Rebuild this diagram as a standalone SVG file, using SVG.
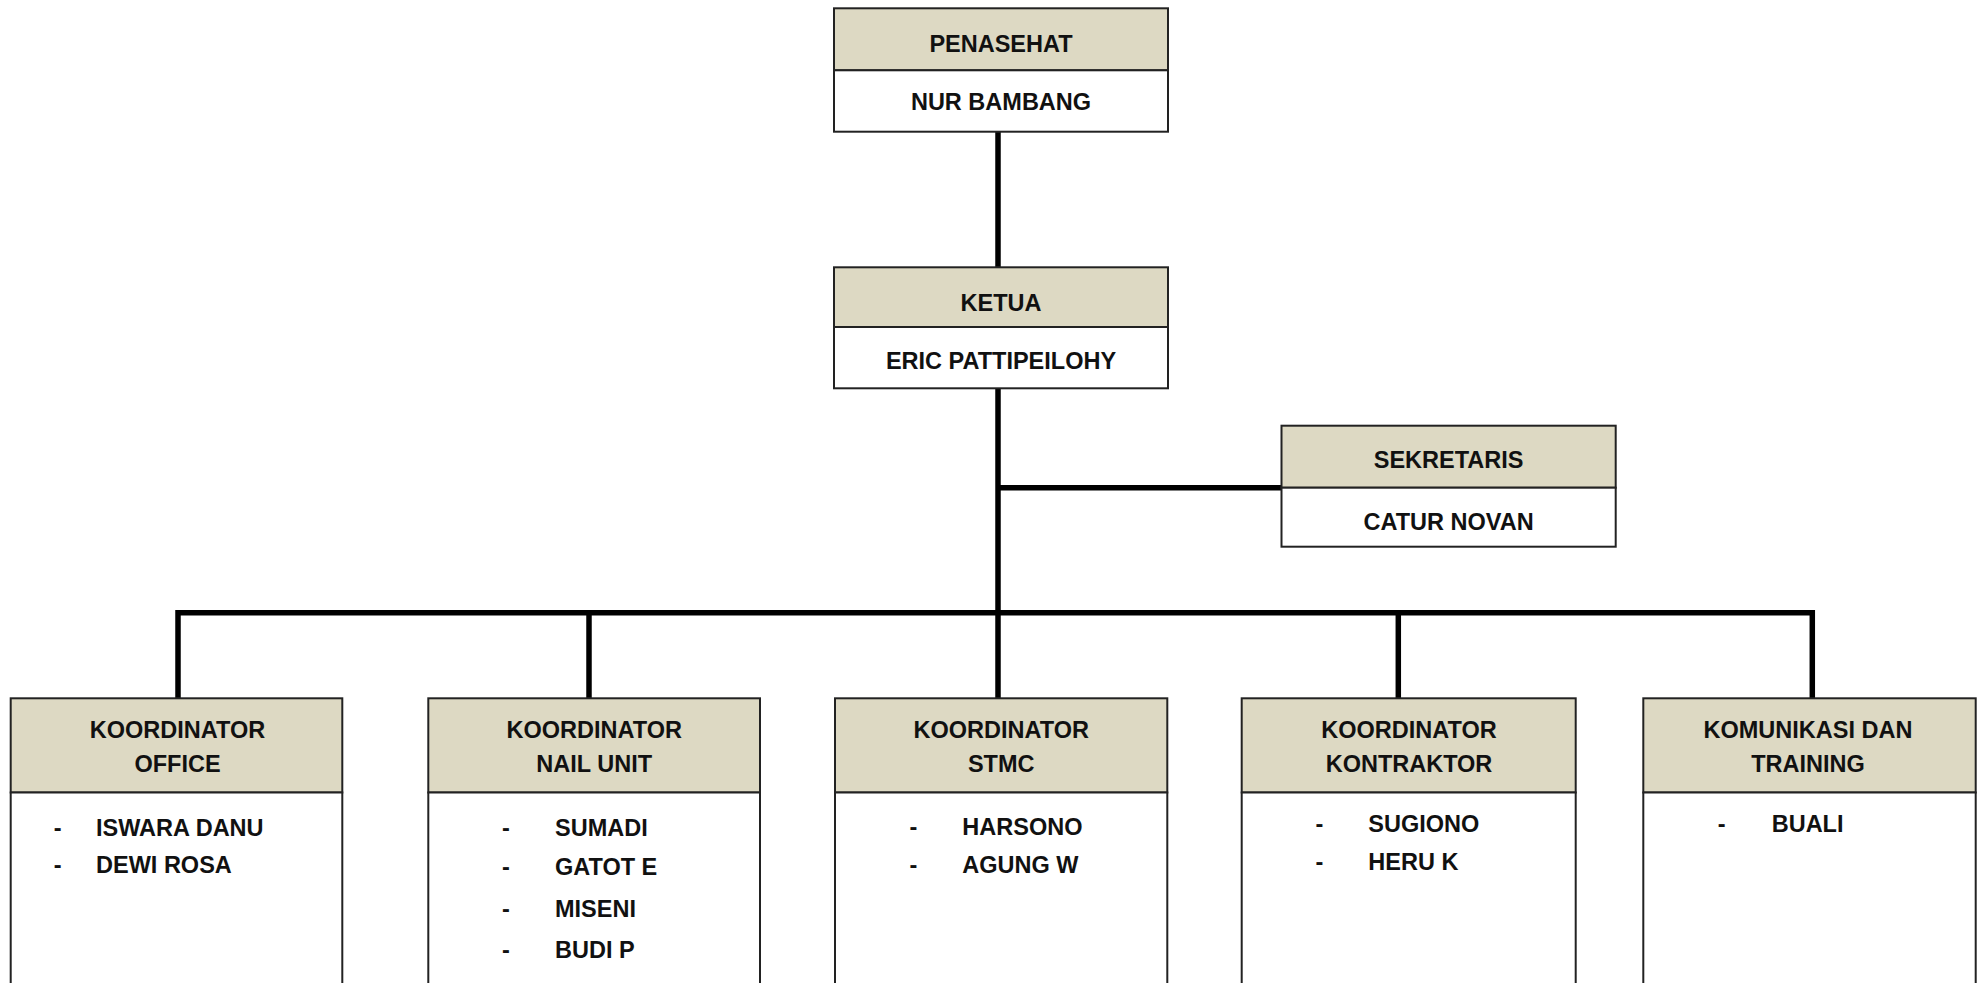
<svg xmlns="http://www.w3.org/2000/svg" width="1979" height="983" viewBox="0 0 1979 983">
<style>
.hd{fill:#DDD9C3;stroke:#222;stroke-width:2}
.bd{fill:#fff;stroke:#222;stroke-width:2}
.t{font-family:"Liberation Sans",Arial,sans-serif;font-weight:bold;font-size:23.5px;fill:#111}
.c{text-anchor:middle}
.ln{stroke:#000;stroke-width:5.5;fill:none}
</style>
<rect width="1979" height="983" fill="#fff"/>
<g id="connectors">
<line class="ln" x1="998" y1="131.7" x2="998" y2="267.3"/>
<line class="ln" x1="998" y1="388.3" x2="998" y2="698.3"/>
<line class="ln" x1="998" y1="487.7" x2="1281.5" y2="487.7"/>
<path class="ln" d="M178 698.3 V612.7 H1812.3 V698.3"/>
<line class="ln" x1="589" y1="612.7" x2="589" y2="698.3"/>
<line class="ln" x1="1398.3" y1="612.7" x2="1398.3" y2="698.3"/>
</g>
<g id="penasehat">
<rect class="hd" x="834" y="8.3" width="334" height="62"/>
<rect class="bd" x="834" y="70.3" width="334" height="61.4"/>
<text class="t c" x="1001" y="51.7">PENASEHAT</text>
<text class="t c" x="1001" y="110">NUR BAMBANG</text>
</g>
<g id="ketua">
<rect class="hd" x="834" y="267.3" width="334" height="59.7"/>
<rect class="bd" x="834" y="327" width="334" height="61.3"/>
<text class="t c" x="1001" y="310.7">KETUA</text>
<text class="t c" x="1001" y="369.3">ERIC PATTIPEILOHY</text>
</g>
<g id="sekretaris">
<rect class="hd" x="1281.5" y="425.7" width="334.2" height="62"/>
<rect class="bd" x="1281.5" y="487.7" width="334.2" height="59"/>
<text class="t c" x="1448.6" y="468.3">SEKRETARIS</text>
<text class="t c" x="1448.6" y="530">CATUR NOVAN</text>
</g>
<g id="koordinator-office">
<rect class="hd" x="10.7" y="698.3" width="331.6" height="94.2"/>
<rect class="bd" x="10.7" y="792.5" width="331.6" height="210"/>
<text class="t c" x="177.5" y="738.3">KOORDINATOR</text>
<text class="t c" x="177.5" y="771.7">OFFICE</text>
<text class="t c" x="57.7" y="835.7">-</text>
<text class="t" x="96" y="835.7">ISWARA DANU</text>
<text class="t c" x="57.7" y="872.7">-</text>
<text class="t" x="96" y="872.7">DEWI ROSA</text>
</g>
<g id="koordinator-nail-unit">
<rect class="hd" x="428.3" y="698.3" width="331.7" height="94.2"/>
<rect class="bd" x="428.3" y="792.5" width="331.7" height="210"/>
<text class="t c" x="594.2" y="738.3">KOORDINATOR</text>
<text class="t c" x="594.2" y="771.7">NAIL UNIT</text>
<text class="t c" x="506" y="835.7">-</text>
<text class="t" x="555" y="835.7">SUMADI</text>
<text class="t c" x="506" y="875">-</text>
<text class="t" x="555" y="875">GATOT E</text>
<text class="t c" x="506" y="917.3">-</text>
<text class="t" x="555" y="917.3">MISENI</text>
<text class="t c" x="506" y="958.3">-</text>
<text class="t" x="555" y="958.3">BUDI P</text>
</g>
<g id="koordinator-stmc">
<rect class="hd" x="835" y="698.3" width="332.3" height="94.2"/>
<rect class="bd" x="835" y="792.5" width="332.3" height="210"/>
<text class="t c" x="1001.2" y="738.3">KOORDINATOR</text>
<text class="t c" x="1001.2" y="771.7">STMC</text>
<text class="t c" x="913.3" y="835.3">-</text>
<text class="t" x="962.3" y="835.3">HARSONO</text>
<text class="t c" x="913.3" y="872.7">-</text>
<text class="t" x="962.3" y="872.7">AGUNG W</text>
</g>
<g id="koordinator-kontraktor">
<rect class="hd" x="1241.7" y="698.3" width="334" height="94.2"/>
<rect class="bd" x="1241.7" y="792.5" width="334" height="210"/>
<text class="t c" x="1409" y="738.3">KOORDINATOR</text>
<text class="t c" x="1409" y="771.7">KONTRAKTOR</text>
<text class="t c" x="1319.3" y="832.3">-</text>
<text class="t" x="1368.3" y="832.3">SUGIONO</text>
<text class="t c" x="1319.3" y="870">-</text>
<text class="t" x="1368.3" y="870">HERU K</text>
</g>
<g id="komunikasi-training">
<rect class="hd" x="1643.3" y="698.3" width="332.4" height="94.2"/>
<rect class="bd" x="1643.3" y="792.5" width="332.4" height="210"/>
<text class="t c" x="1808" y="738.3">KOMUNIKASI DAN</text>
<text class="t c" x="1808" y="771.7">TRAINING</text>
<text class="t c" x="1721.7" y="832.3">-</text>
<text class="t" x="1771.7" y="832.3">BUALI</text>
</g>
</svg>
